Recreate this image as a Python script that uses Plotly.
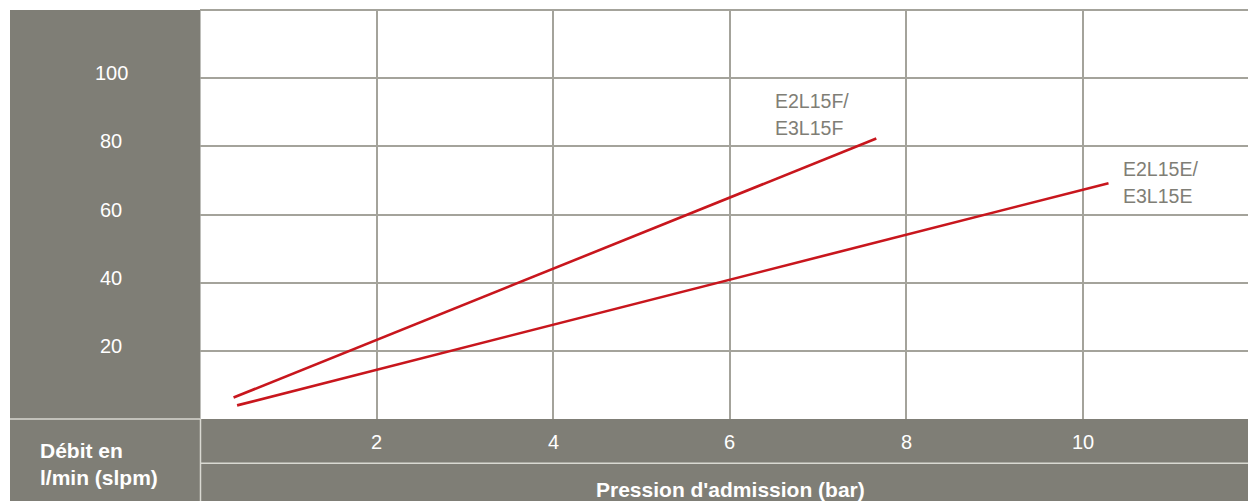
import plotly.graph_objects as go

# Flow vs. inlet pressure for two regulator variants
pressure_F = [0.38, 7.66]
flow_F = [6.3, 82.3]
pressure_E = [0.42, 10.29]
flow_E = [4.0, 69.2]

x_ticks = [2, 4, 6, 8, 10]
y_ticks = [20, 40, 60, 80, 100]

label_F = ["E2L15F/", "E3L15F"]
label_E = ["E2L15E/", "E3L15E"]

x_title = "Pression d'admission (bar)"
y_title = ["Débit en", "l/min (slpm)"]

W, H = 1248, 501
ML, MR, MT, MB = 200, 0, 10, 82
PW = W - ML - MR
PH = H - MT - MB

PANEL = "#7f7e76"
GRID = "#a4a39b"
SEP = "#d9d9d2"
RED = "#c8161d"
FONT = "Liberation Sans, Arial, Helvetica, sans-serif"


def px_x(p):
    return (p - ML) / PW


def px_y(q):
    return (H - MB - q) / PH


fig = go.Figure()
fig.add_trace(go.Scatter(x=pressure_F, y=flow_F, mode="lines",
                         line=dict(color=RED, width=2.6), hoverinfo="skip"))
fig.add_trace(go.Scatter(x=pressure_E, y=flow_E, mode="lines",
                         line=dict(color=RED, width=2.6), hoverinfo="skip"))

shapes = [
    # left header column
    dict(type="rect", xref="paper", yref="paper", x0=px_x(10), x1=px_x(200.5),
         y0=px_y(H + 2), y1=px_y(10), fillcolor=PANEL, line=dict(width=0), layer="below"),
    # bottom axis band
    dict(type="rect", xref="paper", yref="paper", x0=px_x(10), x1=px_x(W + 2),
         y0=px_y(H + 2), y1=px_y(419), fillcolor=PANEL, line=dict(width=0), layer="below"),
    # light separators inside the band
    dict(type="line", xref="paper", yref="paper", x0=px_x(10), x1=px_x(200.5),
         y0=px_y(419), y1=px_y(419), line=dict(color=SEP, width=1.5)),
    dict(type="line", xref="paper", yref="paper", x0=px_x(200.5), x1=px_x(200.5),
         y0=px_y(419), y1=px_y(H + 2), line=dict(color=SEP, width=1.5)),
    dict(type="line", xref="paper", yref="paper", x0=px_x(200.5), x1=px_x(W + 2),
         y0=px_y(463.3), y1=px_y(463.3), line=dict(color=SEP, width=1.5)),
    # top border of the grid
    dict(type="line", xref="paper", yref="paper", x0=0, x1=1,
         y0=1, y1=1, line=dict(color=GRID, width=2)),
]

annotations = []
for v in x_ticks:
    annotations.append(dict(x=v, xref="x", y=px_y(442.5), yref="paper", text=str(v),
                            showarrow=False, xanchor="center", yanchor="middle",
                            font=dict(family=FONT, size=20, color="white")))
for v in y_ticks:
    annotations.append(dict(x=px_x(111.3), xref="paper", y=v, yref="y", text=str(v),
                            showarrow=False, xanchor="center", yanchor="middle", yshift=5,
                            font=dict(family=FONT, size=20, color="white")))

# series labels, placed relative to each line's end point
for txt, dy in zip(label_F, [37.5, 10]):
    annotations.append(dict(x=pressure_F[-1], y=flow_F[-1], xref="x", yref="y", text=txt,
                            showarrow=False, xanchor="left", yanchor="middle",
                            xshift=-103, yshift=dy,
                            font=dict(family=FONT, size=19.5, color=PANEL)))
for txt, dy in zip(label_E, [14, -13]):
    annotations.append(dict(x=pressure_E[-1], y=flow_E[-1], xref="x", yref="y", text=txt,
                            showarrow=False, xanchor="left", yanchor="middle",
                            xshift=12.5, yshift=dy,
                            font=dict(family=FONT, size=19.5, color=PANEL)))

for txt, q in zip(y_title, [450.8, 477.5]):
    annotations.append(dict(x=px_x(38), xref="paper", y=px_y(q), yref="paper",
                            text="<b>" + txt + "</b>", showarrow=False,
                            xanchor="left", yanchor="middle",
                            font=dict(family=FONT, size=21, color="white")))
annotations.append(dict(x=px_x(730), xref="paper", y=px_y(489), yref="paper",
                        text="<b>" + x_title + "</b>", showarrow=False,
                        xanchor="center", yanchor="middle",
                        font=dict(family=FONT, size=21, color="white")))

fig.update_layout(
    width=W, height=H,
    margin=dict(l=ML, r=MR, t=MT, b=MB, pad=0),
    paper_bgcolor="white", plot_bgcolor="white",
    showlegend=False,
    shapes=shapes, annotations=annotations,
    xaxis=dict(range=[0, 11.87], tickvals=x_ticks, showticklabels=False,
               showgrid=True, gridcolor=GRID, gridwidth=2, zeroline=False,
               showline=False, ticks="", fixedrange=True),
    yaxis=dict(range=[0, 120], tickvals=y_ticks + [120], showticklabels=False,
               showgrid=True, gridcolor=GRID, gridwidth=2, zeroline=False,
               showline=False, ticks="", fixedrange=True),
)

fig.write_html("out.html", config={"displayModeBar": False})
